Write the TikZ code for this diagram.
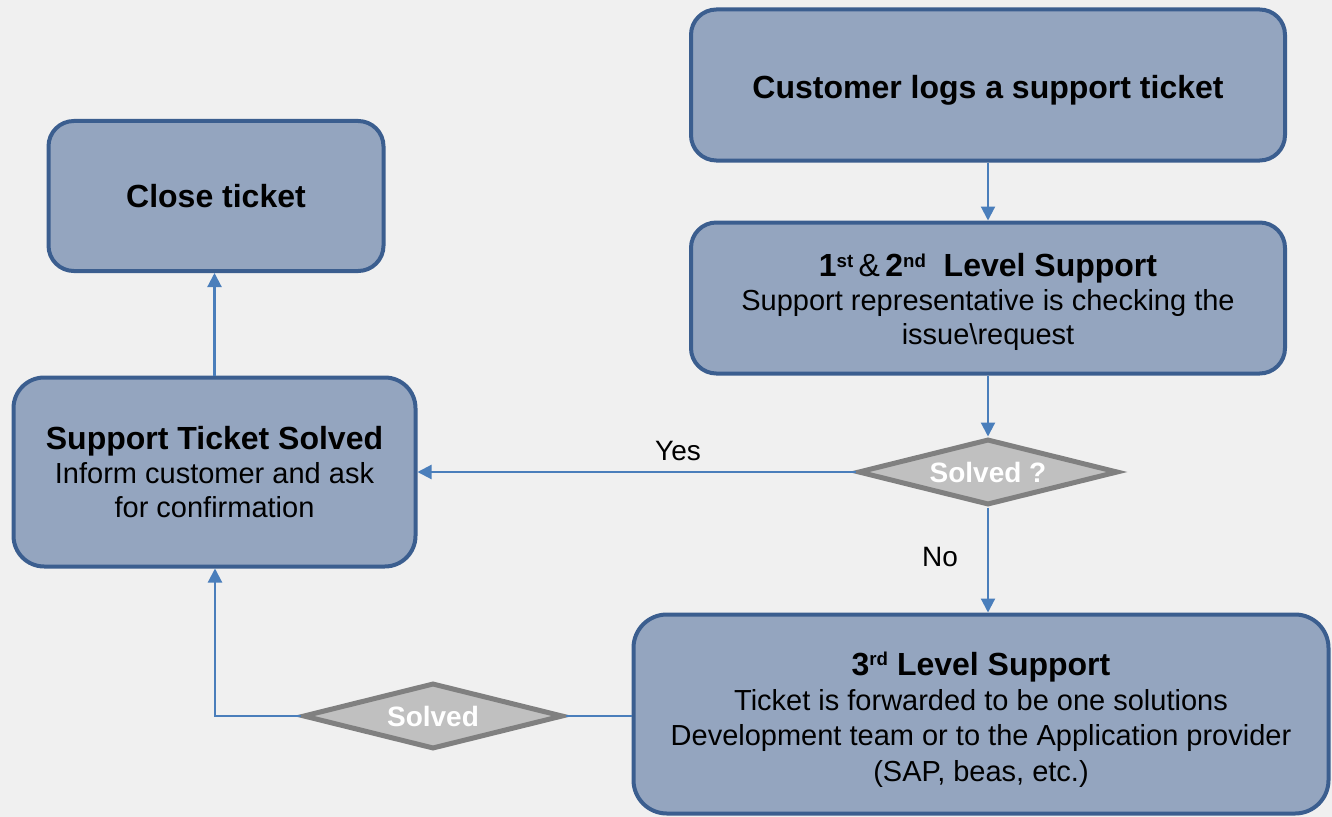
\documentclass[tikz,border=0pt]{standalone}
\usepackage{fontspec}
\setmainfont{Liberation Sans}
\usetikzlibrary{shapes.geometric,arrows.meta,calc}

\definecolor{pagebg}{HTML}{F0F0F0}
\definecolor{boxfill}{HTML}{94A5BF}
\definecolor{boxline}{HTML}{3B5E8F}
\definecolor{flow}{HTML}{4A7EBB}
\definecolor{decfill}{HTML}{C0C0C0}
\definecolor{decline}{HTML}{808080}

\newcommand{\titlefont}{\fontsize{24pt}{25.5pt}\selectfont\bfseries}
\newcommand{\bodyfont}{\fontsize{21.75pt}{25.5pt}\selectfont}
\newcommand{\supr}[1]{\raisebox{0.55ex}{\fontsize{14pt}{14pt}\selectfont #1}}

\tikzset{
  procbox/.style={draw=boxline, fill=boxfill, line width=3pt,
    align=center, inner sep=0pt, text=black, font=\bodyfont},
  boxtext/.style={align=center, inner sep=0pt, text=black, font=\bodyfont},
  decision/.style={diamond, draw=decline, fill=decfill, line width=3.75pt,
    shape aspect=3.7, inner sep=0pt, minimum width=195pt, minimum height=49.5pt,
    text=white, font=\fontsize{21pt}{24pt}\selectfont\bfseries},
  flowline/.style={draw=flow, line width=1.6pt},
  flowarrow/.style={flowline, -{Triangle[length=10.5pt,width=10.5pt]}},
  flowlabel/.style={font=\fontsize{21pt}{24pt}\selectfont, text=black, inner sep=0pt}
}

\begin{document}
\begin{tikzpicture}[x=0.75pt, y=-0.75pt]
  % page background
  \fill[pagebg] (0,0) rectangle (1332,817);
  \useasboundingbox (0,0) rectangle (1332,817);

  % process boxes
  \node[procbox, minimum width=445.5pt, minimum height=113.25pt, rounded corners=19pt]
    (log) at (988,85) {};
  \node[boxtext] (logtext) at (988,90.5) {\titlefont Customer logs a support ticket};

  \node[procbox, minimum width=445.5pt, minimum height=113.25pt, rounded corners=19pt]
    (first) at (988,298) {};
  \node[boxtext] (firsttext) at (988,302)
    {{\titlefont 1\supr{st}\,{\mdseries\&}\,2\supr{nd}\ \ Level Support}\\
     Support representative is checking the\\ issue\textbackslash request};

  \node[procbox, minimum width=251.25pt, minimum height=112.5pt, rounded corners=19pt]
    (close) at (216,196) {\titlefont Close ticket};

  \node[procbox, minimum width=301.5pt, minimum height=141.75pt, rounded corners=23pt]
    (solved) at (214.5,472)
    {{\titlefont Support Ticket Solved}\\ Inform customer and ask\\ for confirmation};

  \node[procbox, minimum width=521.25pt, minimum height=149.25pt, rounded corners=25pt]
    (third) at (981,714) {};
  \node[boxtext, font=\fontsize{21.75pt}{26.5pt}\selectfont] (thirdtext) at (981,719.5)
    {{\titlefont 3\supr{rd} Level Support}\\
     Ticket is forwarded to be one solutions\\
     Development team or to the Application provider\\
     (SAP, beas, etc.)};

  % decisions
  \node[decision] (q1) at (988,472) {Solved ?};
  \node[decision] (q2) at (433,716) {Solved};

  % connectors
  \draw[flowarrow] (log.south) -- (first.north);
  \draw[flowarrow] (first.south) -- (q1.north);
  \draw[flowarrow] (q1.west) -- (q1.west -| solved.east);
  \draw[flowarrow] (q1.south) -- (q1.south |- third.north);
  \draw[flowline] (third.west |- q2.east) -- (q2.east);
  \draw[flowarrow] (q2.west) -| ($(solved.south)+(0.5,0)$);
  \draw[flowarrow] (solved.north) -- (solved.north |- close.south);

  % branch labels
  \node[flowlabel] (yes) at (678,451) {Yes};
  \node[flowlabel] (no) at (940,557) {No};
\end{tikzpicture}
\end{document}
